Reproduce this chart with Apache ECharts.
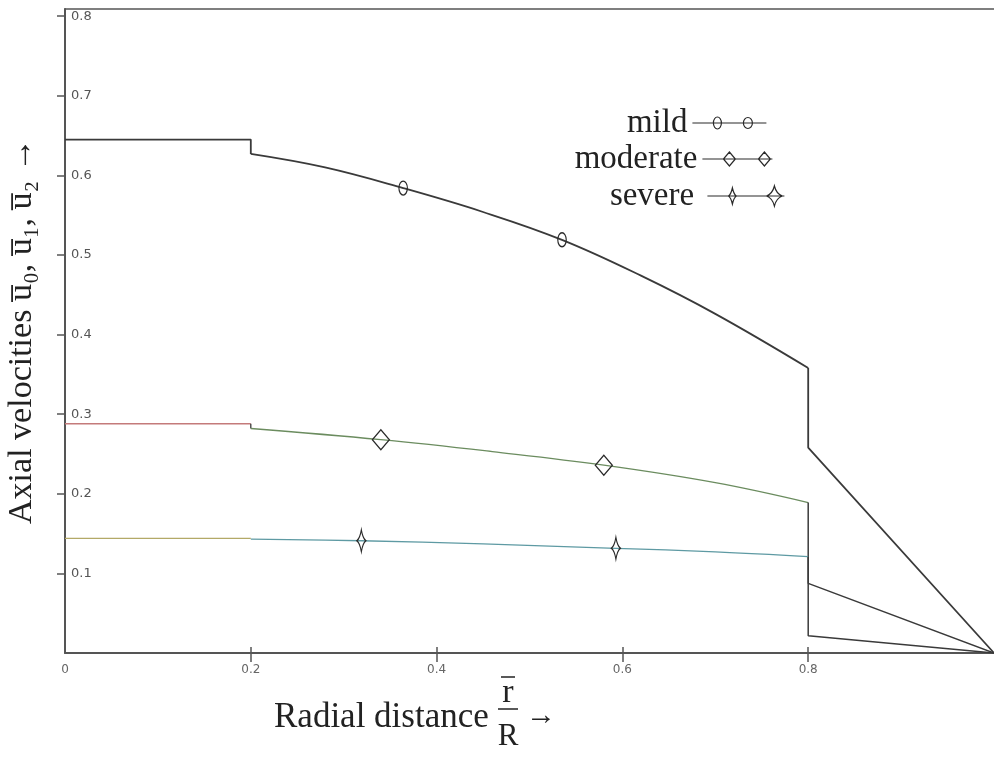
<!DOCTYPE html>
<html>
<head>
<meta charset="utf-8">
<script src="https://cdn.jsdelivr.net/npm/echarts@6/dist/echarts.min.js"></script>
<style>
  html, body { margin: 0; padding: 0; background: #fff; }
  #chart { width: 994px; height: 762px; }
</style>
</head>
<body>
<div id="chart"></div>
<script>
  'use strict'

  /*----- data -----*/
  var seriesNames = ['mild', 'moderate', 'severe'];
  var xTicks = [0, 0.2, 0.4, 0.6, 0.8];
  var yTicks = [0.1, 0.2, 0.3, 0.4, 0.5, 0.6, 0.7, 0.8];

  // mild: core (with the step at 0.2), stenosed part, wall drop at 0.8 and fall to 0 at r = 1
  var mildCoreX = [0, 0.2, 0.2];
  var mildCoreY = [0.645, 0.645, 0.627];
  var mildMidX = [0.2, 0.28, 0.364, 0.45, 0.535, 0.62, 0.7, 0.8];
  var mildMidY = [0.627, 0.61, 0.584, 0.554, 0.519, 0.474, 0.426, 0.358];
  var mildMidMarks = [2, 4];
  var mildWallX = [0.8, 0.8, 1];
  var mildWallY = [0.358, 0.258, 0];

  // moderate
  var modCoreX = [0, 0.2];
  var modCoreY = [0.288, 0.288];
  var modStepX = [0.2, 0.2];
  var modStepY = [0.288, 0.282];
  var modMidX = [0.2, 0.34, 0.46, 0.58, 0.7, 0.8];
  var modMidY = [0.282, 0.268, 0.253, 0.236, 0.214, 0.189];
  var modMidMarks = [1, 3];
  var modWallX = [0.8, 0.8, 1];
  var modWallY = [0.189, 0.0875, 0];

  // severe
  var sevCoreX = [0, 0.2];
  var sevCoreY = [0.144, 0.144];
  var sevMidX = [0.2, 0.319, 0.45, 0.593, 0.7, 0.8];
  var sevMidY = [0.143, 0.141, 0.137, 0.1315, 0.127, 0.121];
  var sevMidMarks = [1, 3];
  var sevWallX = [0.8, 0.8, 1];
  var sevWallY = [0.121, 0.0217, 0];

  /*----- styles -----*/
  var dark = '#3a3a3a';
  var serif = '"Liberation Serif", "Times New Roman", serif';
  var symCircle = 'path://M-5,0 A5,6.5 0 1,1 5,0 A5,6.5 0 1,1 -5,0 Z';
  var symStar = 'path://M0,-11 Q2.2,-2.5 7,0 Q2.2,2.5 0,11 Q-2.2,2.5 -7,0 Q-2.2,-2.5 0,-11 Z';

  function toData(xs, ys, marks) {
    return xs.map(function (x, i) {
      var item = { value: [x, ys[i]] };
      if (!marks || marks.indexOf(i) < 0) item.symbol = 'none';
      return item;
    });
  }

  function seg(name, xs, ys, color, width, smooth, marks, symbol, symbolSize) {
    return {
      name: name,
      type: 'line',
      data: toData(xs, ys, marks),
      smooth: smooth,
      symbol: symbol || 'none',
      symbolSize: symbolSize || 10,
      symbolKeepAspect: true,
      lineStyle: { color: color, width: width },
      itemStyle: { color: 'rgba(0,0,0,0)', borderColor: '#2a2a2a', borderWidth: 1.3 },
      emphasis: { disabled: true },
      z: 3
    };
  }

  var series = [
    seg('mild', mildCoreX, mildCoreY, dark, 1.8, false),
    seg('mild', mildMidX, mildMidY, dark, 1.8, 0.4, mildMidMarks, symCircle, [11, 14]),
    seg('mild', mildWallX, mildWallY, dark, 1.8, false),
    seg('moderate', modCoreX, modCoreY, '#c47a7a', 1.3, false),
    seg('moderate', modStepX, modStepY, dark, 1.3, false),
    seg('moderate', modMidX, modMidY, '#6b8c5f', 1.3, 0.4, modMidMarks, 'diamond', [17, 20]),
    seg('moderate', modWallX, modWallY, dark, 1.5, false),
    seg('severe', sevCoreX, sevCoreY, '#b3a967', 1.3, false),
    seg('severe', sevMidX, sevMidY, '#5e9aa3', 1.3, 0.4, sevMidMarks, symStar, [14, 22]),
    seg('severe', sevWallX, sevWallY, dark, 1.5, false)
  ];

  /*----- legend: one block per entry so the names line up on the right -----*/
  var legendIcons = [
    'path://M0,7 L74,7 M21,7 A4,6 0 1,1 29,7 A4,6 0 1,1 21,7 M51,7 A4.5,5.5 0 1,1 60,7 A4.5,5.5 0 1,1 51,7',
    'path://M0,8 L70,8 M27,1 L33,8 L27,15 L21,8 Z M62,1 L68,8 L62,15 L56,8 Z',
    'path://M0,12 L77,12 M25,4 Q26.5,10.5 29,12 Q26.5,13.5 25,20 Q23.5,13.5 21,12 Q23.5,10.5 25,4 Z M67,2 Q69,10 75,12 Q69,14 67,22 Q65,14 59,12 Q65,10 67,2 Z'
  ];
  var legendW = [74, 70, 77];
  var legendH = [14, 16, 24];
  var legendRight = [227, 221, 209];
  var legendTop = [106, 142, 179];

  var legends = seriesNames.map(function (n, i) {
    return {
      data: [{ name: n, icon: legendIcons[i] }],
      align: 'right',
      right: legendRight[i],
      top: legendTop[i],
      padding: 0,
      itemWidth: legendW[i],
      itemHeight: legendH[i],
      selectedMode: false,
      formatter: function (name) { return name === 'severe' ? name + ' ' : name; },
      textStyle: { fontFamily: serif, fontSize: 33, color: '#222', lineHeight: 34 },
      itemStyle: { color: 'rgba(0,0,0,0)', borderColor: '#2a2a2a', borderWidth: 1.2 },
      lineStyle: { color: dark, width: 1.3 }
    };
  });

  function xFmt(v) {
    for (var i = 0; i < xTicks.length; i++) {
      if (Math.abs(v - xTicks[i]) < 1e-6) return v === 0 ? '0' : v.toFixed(1);
    }
    return '';
  }
  function yFmt(v) {
    for (var i = 0; i < yTicks.length; i++) {
      if (Math.abs(v - yTicks[i]) < 1e-6) return v.toFixed(1);
    }
    return '';
  }

  var option = {
    backgroundColor: '#fff',
    animation: false,
    grid: { left: 65, right: 0, top: 9, bottom: 109, containLabel: false, outerBoundsMode: 'none' },
    legend: legends,
    xAxis: [
      {
        type: 'value', min: 0, max: 1, interval: 0.2, position: 'bottom',
        axisLine: { lineStyle: { color: '#555', width: 2 } },
        axisTick: { length: 9, customValues: [0.2, 0.4, 0.6, 0.8], lineStyle: { color: '#555', width: 1.5 } },
        axisLabel: { customValues: xTicks, formatter: xFmt, color: '#666', fontSize: 12, fontFamily: 'DejaVu Sans', margin: 11 },
        splitLine: { show: false }
      },
      {
        type: 'value', min: 0, max: 1, interval: 0.2, position: 'bottom',
        axisLine: { show: false },
        axisTick: { inside: true, length: 6, customValues: [0.2, 0.4, 0.6, 0.8], lineStyle: { color: '#555', width: 1.5 } },
        axisLabel: { show: false },
        splitLine: { show: false }
      },
      {
        type: 'value', min: 0, max: 1, position: 'top',
        axisLine: { lineStyle: { color: '#555', width: 1.5 } },
        axisTick: { show: false },
        axisLabel: { show: false },
        splitLine: { show: false }
      }
    ],
    yAxis: {
      type: 'value', min: 0, max: 0.809, interval: 0.1,
      axisLine: { lineStyle: { color: '#555', width: 2 } },
      axisTick: { length: 8, customValues: yTicks, lineStyle: { color: '#555', width: 1.5 } },
      axisLabel: { inside: true, customValues: yTicks, formatter: yFmt, color: '#555', fontSize: 13, fontFamily: 'DejaVu Sans', margin: 6 },
      splitLine: { show: false },
      name: 'Axial velocities u\u0305\u2080, u\u0305\u2081, u\u0305\u2082 \u2192',
      nameLocation: 'middle',
      nameGap: 26,
      nameTextStyle: { fontFamily: serif, fontSize: 34, color: '#222' }
    },
    graphic: [
      { type: 'text', x: 274, y: 718, style: { text: 'Radial distance', font: '35px ' + serif, fill: '#222', verticalAlign: 'middle' } },
      { type: 'text', x: 508, y: 693, style: { text: 'r', font: '34px ' + serif, fill: '#222', align: 'center', verticalAlign: 'middle' } },
      { type: 'line', shape: { x1: 501, y1: 677, x2: 515, y2: 677 }, style: { stroke: '#222', lineWidth: 1.5 } },
      { type: 'line', shape: { x1: 498, y1: 709, x2: 518, y2: 709 }, style: { stroke: '#222', lineWidth: 1.5 } },
      { type: 'text', x: 508, y: 737, style: { text: 'R', font: '31px ' + serif, fill: '#222', align: 'center', verticalAlign: 'middle' } },
      { type: 'text', x: 526, y: 716, style: { text: '\u2192', font: '30px ' + serif, fill: '#222', verticalAlign: 'middle' } }
    ],
    series: series
  };

  var chart = echarts.init(document.getElementById('chart'));
  chart.setOption(option);
</script>
</body>
</html>
